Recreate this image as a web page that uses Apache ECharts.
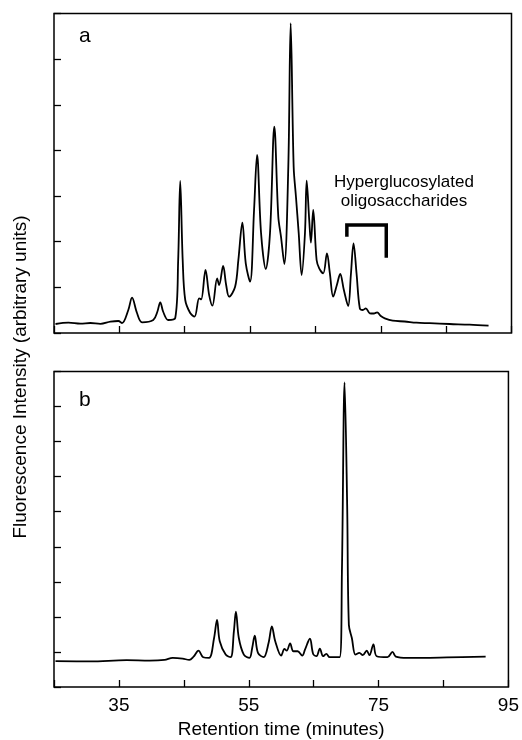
<!DOCTYPE html>
<html>
<head>
<meta charset="utf-8">
<script src="https://cdn.jsdelivr.net/npm/echarts@6/dist/echarts.min.js"></script>
<style>
html,body{margin:0;padding:0;background:#fff;}
#chart{width:522px;height:740px;}
</style>
</head>
<body>
<div id="chart"></div>
<script>
// Panel a: retention time (minutes) and fluorescence intensity (arbitrary units)
const timeA = [25.23,27.21,29.05,30.57,32.10,33.63,34.85,35.41,36.37,36.94,37.70,38.47,40.19,40.80,41.26,41.72,42.48,43.55,44.00,44.31,44.69,45.08,45.84,46.50,47.21,47.52,48.18,48.74,49.24,49.96,50.27,50.88,51.34,51.79,52.71,53.21,53.82,54.34,55.00,55.61,56.07,56.68,57.40,58.05,58.71,59.32,59.73,60.24,60.85,61.21,61.67,62.02,62.44,62.89,63.40,63.66,64.05,64.31,64.66,65.18,65.58,66.19,66.76,67.21,67.72,68.28,68.79,69.35,70.01,70.42,70.83,71.29,71.79,72.25,72.71,73.32,73.93,74.44,75.00,75.61,76.83,78.66,80.45,82.48,85.53,88.59,91.49];
const intensityA = [0.197,0.226,0.204,0.219,0.200,0.248,0.263,0.219,0.504,0.773,0.438,0.234,0.285,0.460,0.673,0.460,0.285,0.329,1.600,3.330,1.600,0.723,0.438,0.357,0.760,0.738,1.380,0.830,0.598,1.198,1.052,1.468,1.052,0.795,1.014,1.600,2.417,1.527,1.124,2.695,3.900,2.191,1.402,2.191,4.520,2.548,2.110,1.512,3.644,6.786,3.644,2.986,2.191,1.271,2.191,3.337,2.476,1.978,2.695,1.600,1.418,1.308,1.746,1.308,0.795,1.052,1.293,0.942,0.592,1.271,1.965,1.308,0.541,0.504,0.541,0.432,0.427,0.454,0.372,0.322,0.270,0.252,0.226,0.215,0.197,0.182,0.160];

// Panel b
const timeB = [25.23,30.57,36.18,39.73,42.02,43.29,44.82,45.84,46.50,47.26,47.98,48.89,49.66,50.11,50.53,51.44,52.21,52.71,53.02,53.47,54.24,55.11,55.53,55.92,56.42,57.29,58.05,58.56,59.08,59.99,60.50,60.85,61.37,61.87,62.53,63.24,63.66,64.42,64.92,65.43,65.95,66.45,66.95,67.47,69.00,69.35,69.76,70.16,70.42,70.88,71.44,72.05,72.56,73.17,73.59,74.20,74.71,76.37,77.14,77.65,79.43,85.53,91.49];
const intensityB = [0.737,0.731,0.765,0.754,0.773,0.830,0.810,0.773,0.867,1.037,0.850,0.830,1.397,1.915,1.303,0.924,0.850,1.586,2.153,1.397,0.924,0.830,1.113,1.462,0.972,0.850,1.255,1.728,1.303,0.895,1.085,1.037,1.246,1.020,1.020,0.895,1.065,1.377,0.943,0.878,1.093,0.878,0.943,0.850,0.850,3.286,8.686,5.173,1.773,1.397,0.924,0.972,0.907,1.037,0.907,1.218,0.878,0.850,1.000,0.867,0.830,0.844,0.867];

// Bracket marking hyperglucosylated oligosaccharides (panel a coordinates)
const bracketX = [69.81, 69.81, 75.84, 75.84];
const bracketY = [2.147, 2.366, 2.366, 1.687];

const xTickLabels = ['35', '55', '75', '95'];

const zip = (xs, ys) => xs.map((x, i) => [x, ys[i]]);

const FONT = '"Liberation Sans", Arial, Helvetica, sans-serif';

const chart = echarts.init(document.getElementById('chart'), null, {renderer: 'canvas'});

const xBase = {
  type: 'value', min: 25, max: 95, interval: 10,
  axisLine: {show: false},
  axisTick: {show: true, inside: true, length: 7, lineStyle: {color: '#000', width: 1.3}},
  splitLine: {show: false}
};
const yBase = {
  type: 'value', min: 0, interval: 1,
  axisLine: {show: false},
  axisTick: {show: true, inside: true, length: 7, lineStyle: {color: '#000', width: 1.3}},
  axisLabel: {show: false},
  splitLine: {show: false}
};

chart.setOption({
  animation: false,
  backgroundColor: '#fff',
  grid: [
    {left: 54, right: 10.5, top: 13.5, height: 319.5, show: true, borderColor: '#000', borderWidth: 1.5, backgroundColor: 'transparent'},
    {left: 54, right: 9.5, top: 371.5, height: 318, show: true, borderColor: '#000', borderWidth: 1.5, backgroundColor: 'transparent'}
  ],
  xAxis: [
    Object.assign({}, xBase, {gridIndex: 0, axisLabel: {show: false}}),
    Object.assign({}, xBase, {
      gridIndex: 1,
      axisLabel: {
        show: true, color: '#000', fontSize: 19, fontFamily: FONT, margin: 9,
        showMinLabel: true, showMaxLabel: true,
        formatter: v => xTickLabels.indexOf(String(v)) >= 0 ? String(v) : ''
      },
      name: 'Retention time (minutes)',
      nameLocation: 'middle', nameGap: 33,
      nameTextStyle: {color: '#000', fontSize: 19, fontFamily: FONT}
    })
  ],
  yAxis: [
    Object.assign({}, yBase, {gridIndex: 0, max: 7}),
    Object.assign({}, yBase, {gridIndex: 1, max: 9})
  ],
  series: [
    {
      type: 'line', xAxisIndex: 0, yAxisIndex: 0, data: zip(timeA, intensityA),
      showSymbol: false, smooth: 0.35, lineStyle: {color: '#000', width: 1.8}, z: 3
    },
    {
      type: 'line', xAxisIndex: 1, yAxisIndex: 1, data: zip(timeB, intensityB),
      showSymbol: false, smooth: 0.35, lineStyle: {color: '#000', width: 1.8}, z: 3
    },
    {
      type: 'line', xAxisIndex: 0, yAxisIndex: 0, data: zip(bracketX, bracketY),
      showSymbol: false, lineStyle: {color: '#000', width: 3.5, cap: 'square', join: 'miter'}, z: 4
    }
  ],
  graphic: [
    {type: 'text', left: 79, top: 26, style: {text: 'a', font: '21px ' + FONT, fill: '#000'}},
    {type: 'text', left: 79, top: 390, style: {text: 'b', font: '21px ' + FONT, fill: '#000'}},
    {type: 'text', x: 404, y: 192, style: {
      text: 'Hyperglucosylated\noligosaccharides', font: '17px ' + FONT, fill: '#000',
      align: 'center', verticalAlign: 'middle', lineHeight: 19
    }},
    {type: 'text', x: 21, y: 377, rotation: Math.PI / 2, style: {
      text: 'Fluorescence Intensity (arbitrary units)', font: '19px ' + FONT, fill: '#000',
      align: 'center', verticalAlign: 'middle'
    }}
  ]
});
</script>
</body>
</html>
